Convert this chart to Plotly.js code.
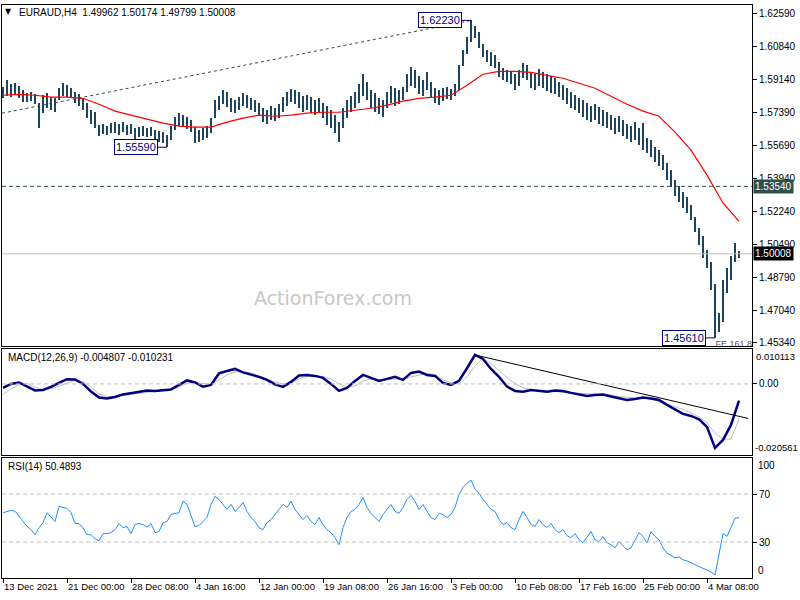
<!DOCTYPE html>
<html><head><meta charset="utf-8">
<script src="https://cdn.plot.ly/plotly-3.0.1.min.js"></script>
<style>html,body{margin:0;padding:0;background:#fff}#chart{width:800px;height:600px}</style>
</head><body><div id="chart"></div>
<script>
// ---------- data ----------
const headerText = 'EURAUD,H4  1.49962 1.50174 1.49799 1.50008';
const macdLabel = 'MACD(12,26,9) -0.004807 -0.010231';
const rsiLabel = 'RSI(14) 50.4893';
const watermark = 'ActionForex.com';

const timeTickIdx = [0,16,32,48,64,80,96,112,128,144,160,176];
const timeTickText = ['13 Dec 2021','21 Dec 00:00','28 Dec 08:00','4 Jan 16:00','12 Jan 00:00','19 Jan 08:00','26 Jan 16:00','3 Feb 00:00','10 Feb 08:00','17 Feb 16:00','25 Feb 00:00','4 Mar 08:00'];

const priceTicks = [1.62590,1.60840,1.59140,1.57390,1.55690,1.53940,1.52240,1.50490,1.48790,1.47040,1.45340];

const barHigh = [
1.5873,1.5909,1.5888,1.5894,1.5878,1.5857,1.5841,1.5847,1.5836,1.5789,
1.5831,1.5841,1.5821,1.5815,1.5868,1.5894,1.5883,1.5868,1.5847,1.5836,
1.5815,1.5789,1.5753,1.5742,1.5674,1.5680,1.5669,1.5685,1.5690,1.5680,
1.5690,1.5674,1.5680,1.5659,1.5664,1.5669,1.5659,1.5664,1.5648,1.5643,
1.5638,1.5622,1.5669,1.5716,1.5737,1.5727,1.5716,1.5701,1.5664,1.5648,
1.5659,1.5669,1.5711,1.5805,1.5826,1.5857,1.5847,1.5815,1.5805,1.5821,
1.5841,1.5831,1.5815,1.5805,1.5789,1.5763,1.5753,1.5774,1.5763,1.5784,
1.5821,1.5847,1.5862,1.5857,1.5847,1.5826,1.5831,1.5821,1.5805,1.5815,
1.5789,1.5774,1.5753,1.5727,1.5690,1.5763,1.5805,1.5826,1.5847,1.5888,
1.5941,1.5899,1.5857,1.5841,1.5815,1.5805,1.5847,1.5878,1.5868,1.5857,
1.5873,1.5941,1.5977,1.5962,1.5930,1.5909,1.5951,1.5899,1.5868,1.5857,
1.5868,1.5873,1.5862,1.5888,1.5988,1.6066,1.6134,1.6223,1.6196,1.6160,
1.6097,1.6066,1.6056,1.6040,1.6003,1.5972,1.5962,1.5956,1.5941,1.5962,
1.5998,1.5988,1.5951,1.5941,1.5967,1.5951,1.5941,1.5930,1.5920,1.5899,
1.5883,1.5868,1.5847,1.5831,1.5815,1.5805,1.5789,1.5774,1.5784,1.5768,
1.5753,1.5742,1.5727,1.5711,1.5721,1.5701,1.5680,1.5669,1.5690,1.5659,
1.5685,1.5607,1.5596,1.5559,1.5544,1.5518,1.5476,1.5440,1.5387,1.5356,
1.5325,1.5299,1.5257,1.5194,1.5137,1.5095,1.5022,1.4959,1.4844,1.4693,
1.4865,1.4928,1.4991,1.5058,1.50174];

const barLow = [
1.5815,1.5826,1.5821,1.5831,1.5815,1.5794,1.5794,1.5800,1.5784,1.5659,
1.5737,1.5763,1.5753,1.5742,1.5805,1.5826,1.5821,1.5815,1.5789,1.5774,
1.5753,1.5711,1.5680,1.5659,1.5617,1.5627,1.5622,1.5633,1.5633,1.5622,
1.5638,1.5622,1.5627,1.5596,1.5612,1.5617,1.5612,1.5617,1.5591,1.5586,
1.5580,1.5559,1.5596,1.5648,1.5669,1.5664,1.5654,1.5638,1.5580,1.5586,
1.5596,1.5607,1.5633,1.5711,1.5753,1.5784,1.5768,1.5742,1.5737,1.5753,
1.5774,1.5763,1.5753,1.5742,1.5721,1.5690,1.5680,1.5701,1.5695,1.5711,
1.5742,1.5774,1.5794,1.5784,1.5763,1.5742,1.5753,1.5737,1.5727,1.5742,
1.5711,1.5674,1.5659,1.5633,1.5586,1.5659,1.5711,1.5742,1.5763,1.5789,
1.5826,1.5805,1.5763,1.5742,1.5732,1.5716,1.5763,1.5789,1.5774,1.5784,
1.5805,1.5847,1.5878,1.5868,1.5836,1.5826,1.5857,1.5815,1.5789,1.5779,
1.5800,1.5810,1.5805,1.5826,1.5857,1.5982,1.6045,1.6108,1.6129,1.6076,
1.6029,1.6003,1.5982,1.5972,1.5925,1.5909,1.5899,1.5888,1.5857,1.5878,
1.5920,1.5909,1.5868,1.5857,1.5878,1.5868,1.5852,1.5841,1.5836,1.5821,
1.5805,1.5784,1.5763,1.5753,1.5737,1.5716,1.5701,1.5690,1.5701,1.5680,
1.5669,1.5659,1.5648,1.5627,1.5638,1.5617,1.5601,1.5586,1.5596,1.5570,
1.5544,1.5528,1.5507,1.5481,1.5460,1.5440,1.5387,1.5351,1.5304,1.5273,
1.5241,1.5215,1.5179,1.5116,1.5048,1.4980,1.4928,1.4813,1.4561,1.4594,
1.4646,1.4797,1.4865,1.4959,1.49799];

// SMA sampled every 4 bars
const smaVals = [
1.5831,1.5836,1.5831,1.5821,1.5821,1.5815,1.5784,1.5748,1.5727,1.5706,
1.5685,1.5669,1.5664,1.5664,1.5690,1.5711,1.5727,1.5721,1.5727,1.5737,
1.5742,1.5742,1.5753,1.5763,1.5779,1.5800,1.5815,1.5821,1.5831,1.5883,
1.5941,1.5956,1.5956,1.5951,1.5935,1.5920,1.5894,1.5868,1.5826,1.5784,
1.5748,1.5721,1.5638,1.5544,1.5413,1.5267,1.5171];

// MACD & signal sampled every 2 bars
const macdVals = [
-0.00116,0.00000,0.00043,-0.00072,-0.00188,-0.00174,-0.00087,0.00029,0.00136,0.00130,
0.00000,-0.00217,-0.00391,-0.00420,-0.00376,-0.00304,-0.00260,-0.00217,-0.00194,-0.00203,
-0.00188,-0.00159,-0.00029,0.00101,0.00043,-0.00078,-0.00029,0.00304,0.00376,0.00434,
0.00333,0.00275,0.00203,0.00116,-0.00014,-0.00087,0.00058,0.00246,0.00260,0.00232,
0.00174,0.00000,-0.00203,-0.00116,0.00087,0.00260,0.00174,0.00087,0.00145,0.00203,
0.00116,0.00318,0.00356,0.00260,0.00232,0.00029,-0.00029,0.00087,0.00454,0.00839,
0.00724,0.00434,0.00203,-0.00078,-0.00203,-0.00223,-0.00174,-0.00203,-0.00223,-0.00188,
-0.00203,-0.00260,-0.00304,-0.00347,-0.00318,-0.00304,-0.00362,-0.00405,-0.00463,-0.00434,
-0.00391,-0.00420,-0.00463,-0.00608,-0.00738,-0.00868,-0.00926,-0.01027,-0.01244,-0.01852,
-0.01621,-0.01187,-0.00481];
const signalVals = [
-0.00304,-0.00145,-0.00014,0.00014,-0.00087,-0.00159,-0.00145,-0.00058,0.00029,0.00101,
0.00072,-0.00087,-0.00289,-0.00362,-0.00362,-0.00333,-0.00289,-0.00260,-0.00232,-0.00217,
-0.00188,-0.00159,-0.00087,0.00029,0.00038,0.00014,-0.00014,0.00116,0.00260,0.00347,
0.00356,0.00318,0.00232,0.00145,0.00058,0.00000,0.00029,0.00145,0.00217,0.00232,
0.00217,0.00145,0.00000,-0.00087,-0.00058,0.00087,0.00145,0.00130,0.00116,0.00145,
0.00130,0.00203,0.00260,0.00304,0.00275,0.00116,0.00029,0.00000,0.00203,0.00521,
0.00738,0.00579,0.00391,0.00174,0.00014,-0.00116,-0.00159,-0.00174,-0.00188,-0.00217,
-0.00246,-0.00260,-0.00275,-0.00275,-0.00289,-0.00304,-0.00318,-0.00362,-0.00390,-0.00405,
-0.00405,-0.00434,-0.00506,-0.00579,-0.00651,-0.00738,-0.00839,-0.00955,-0.01129,-0.01418,
-0.01606,-0.01592,-0.01023];
const macdRange = [-0.020561, 0.010113];
const macdTrendIdx = [118, 186.3];
const macdTrendVal = [0.00839, -0.0100];

const rsiVals = [
54.4,55.2,56.3,55.7,51.5,47.3,43.1,40.3,36.1,42.0,
46.0,54.4,50.4,47.1,59.7,58.6,58.0,54.6,45.4,45.4,
41.8,36.1,36.1,32.8,31.1,37.0,37.0,37.8,40.3,45.4,
42.0,42.9,37.0,44.5,45.4,44.5,42.3,45.4,37.8,38.7,
46.0,47.1,52.9,53.8,54.4,63.9,61.3,52.1,42.9,43.7,
47.1,50.4,61.3,68.1,65.5,61.3,57.1,61.3,55.5,58.8,
63.0,55.5,50.4,47.1,42.0,40.3,46.2,48.7,52.9,57.1,
61.3,58.8,63.9,57.1,52.9,48.7,52.1,47.1,44.5,50.4,
44.5,40.3,37.8,33.6,27.7,42.0,50.4,55.5,57.1,61.3,
67.2,58.8,53.8,50.4,47.1,52.9,57.1,61.3,55.5,53.8,
58.8,65.5,68.9,63.9,57.1,61.3,55.5,50.4,48.7,53.8,
52.9,50.4,52.9,58.8,69.7,75.6,79.0,81.5,73.9,70.6,
65.5,61.3,57.1,55.5,48.7,44.5,46.2,42.0,40.3,48.7,
55.5,50.4,44.5,42.9,48.7,44.5,42.0,45.4,40.3,37.8,
40.3,35.3,33.6,37.0,31.9,29.4,33.6,38.7,31.9,30.3,
34.5,29.4,27.7,25.2,30.3,26.9,23.5,25.2,31.9,37.8,
34.7,29.2,38.7,34.7,31.9,25.0,20.8,18.5,16.8,17.6,
15.1,14.3,12.6,10.9,9.2,8.0,6.7,5.0,2.5,18.5,
37.0,34.7,42.9,49.6,50.49];
const rsiLevels = [70, 30];

// price trendline (dotted) and levels
const trendIdx = [-0.25, 117];
const trendVal = [1.5737, 1.6223];
const dashedLevel = 1.53540;
const lastPrice = 1.50008;
const markIdx = [117, 41, 178];
const markPrice = [1.62230, 1.55590, 1.45610];
const feIdx = [178.1];
const fePrice = [1.4524];
const feText = ['FE 161.8'];

// ---------- chart ----------
const N = barHigh.length;
const barIdx = Array.from({length: N}, (_, i) => i);
const idx2 = Array.from({length: macdVals.length}, (_, i) => i * 2);
const idx4 = Array.from({length: smaVals.length}, (_, i) => i * 4);
const xRange = [-0.25, 187.25];
const FONT = 'Liberation Sans, Arial, sans-serif';

const traces = [
  {type:'bar', x: barIdx, y: barHigh.map((h, i) => h - barLow[i]), base: barLow, width: 0.4,
   marker:{color:'#1c4660', line:{width:0}}, xaxis:'x', yaxis:'y', hoverinfo:'skip'},
  {type:'scatter', mode:'lines', x: idx4, y: smaVals, line:{color:'#ff0000', width:1.2}, xaxis:'x', yaxis:'y'},
  {type:'scatter', mode:'lines', x: trendIdx, y: trendVal, line:{color:'#2f4f4f', width:1, dash:'3px,3px'}, xaxis:'x', yaxis:'y'},
  {type:'scatter', mode:'text', x: feIdx, y: fePrice, text: feText, textposition:'middle right', cliponaxis:true,
   textfont:{family:FONT, size:9, color:'#555555'}, xaxis:'x', yaxis:'y'},
  {type:'scatter', mode:'lines', x: idx2, y: signalVals, line:{color:'#c0c0c0', width:1}, xaxis:'x2', yaxis:'y2'},
  {type:'scatter', mode:'lines', x: idx2, y: macdVals, line:{color:'#000080', width:2.5}, xaxis:'x2', yaxis:'y2'},
  {type:'scatter', mode:'lines', x: macdTrendIdx, y: macdTrendVal, line:{color:'#000000', width:1}, xaxis:'x2', yaxis:'y2'},
  {type:'scatter', mode:'lines', x: barIdx, y: rsiVals, line:{color:'#1e90ff', width:1}, xaxis:'x3', yaxis:'y3'}
];

const axBase = {showline:true, mirror:true, linecolor:'#000', linewidth:1, showgrid:false, zeroline:false, fixedrange:true};
const yBase = Object.assign({}, axBase, {side:'right', ticks:'outside', ticklen:4, tickcolor:'#000', tickfont:{family:FONT, size:10, color:'#000'}});

const shapes = [
  {type:'line', xref:'x domain', x0:0, x1:1, yref:'y', y0:dashedLevel, y1:dashedLevel, line:{color:'#2f4f4f', width:1, dash:'4px,3px'}},
  {type:'line', xref:'x domain', x0:0, x1:1, yref:'y', y0:lastPrice, y1:lastPrice, line:{color:'#c0c0c0', width:1}},
  {type:'line', xref:'x2 domain', x0:0, x1:1, yref:'y2', y0:0, y1:0, line:{color:'#c0c0c0', width:1, dash:'4px,3px'}}
].concat(rsiLevels.map(v => ({type:'line', xref:'x3 domain', x0:0, x1:1, yref:'y3', y0:v, y1:v, line:{color:'#c0c0c0', width:1, dash:'4px,3px'}})));

const annotations = [
  {xref:'paper', yref:'paper', x:0, y:1, xanchor:'left', yanchor:'top', xshift:1, yshift:0, showarrow:false,
   text:'▼', font:{family:'DejaVu Sans', size:8, color:'#000'}},
  {xref:'paper', yref:'paper', x:0, y:1, xanchor:'left', yanchor:'top', xshift:15, yshift:0, showarrow:false,
   text: headerText, font:{family:FONT, size:10, color:'#000'}},
  {xref:'paper', yref:'y2 domain', x:0, y:1, xanchor:'left', yanchor:'top', xshift:4, yshift:-1, showarrow:false,
   text: macdLabel, font:{family:FONT, size:10, color:'#000'}},
  {xref:'paper', yref:'y3 domain', x:0, y:1, xanchor:'left', yanchor:'top', xshift:4, yshift:-1, showarrow:false,
   text: rsiLabel, font:{family:FONT, size:10, color:'#000'}},
  {xref:'paper', x:0.441, xanchor:'center', yref:'y domain', y:0.14, yanchor:'middle', showarrow:false,
   text: watermark, font:{family:'DejaVu Sans', size:19, color:'#c8c8c8'}},
  {xref:'paper', x:1, xanchor:'left', xshift:1, yref:'y', y:dashedLevel, yanchor:'middle', showarrow:false, text:dashedLevel.toFixed(5),
   bgcolor:'#2f4f4f', borderpad:1, font:{family:FONT, size:10, color:'#fff'}},
  {xref:'paper', x:1, xanchor:'left', xshift:1, yref:'y', y:lastPrice, yanchor:'middle', showarrow:false, text:lastPrice.toFixed(5),
   bgcolor:'#000', borderpad:1, font:{family:FONT, size:10, color:'#fff'}},
  {xref:'paper', x:1, xanchor:'left', xshift:2, yref:'y2', y:macdRange[1], yanchor:'top', showarrow:false, text:macdRange[1].toFixed(6),
   font:{family:FONT, size:9.5, color:'#000'}},
  {xref:'paper', x:1, xanchor:'left', xshift:1, yref:'y2', y:macdRange[0], yanchor:'bottom', showarrow:false, text:macdRange[0].toFixed(6),
   font:{family:FONT, size:9.5, color:'#000'}},
  {xref:'paper', x:1, xanchor:'left', xshift:4, yref:'y3', y:100, yanchor:'top', showarrow:false, text:'100',
   font:{family:FONT, size:10, color:'#000'}},
  {xref:'paper', x:1, xanchor:'left', xshift:4, yref:'y3', y:0, yanchor:'bottom', showarrow:false, text:'0',
   font:{family:FONT, size:10, color:'#000'}}
].concat(markIdx.map((ix, k) => ({
  xref:'x', yref:'y', x: ix, y: markPrice[k], text: markPrice[k].toFixed(5), showarrow:true, arrowhead:0, arrowwidth:1,
  arrowcolor:'#000080', ax:-31, ay:0, bordercolor:'#000080', borderwidth:1, borderpad:1, bgcolor:'#fff',
  font:{family:FONT, size:11, color:'#000080'}
})));

const layout = {
  width:800, height:600, margin:{l:2, r:48, t:5, b:22},
  paper_bgcolor:'#fff', plot_bgcolor:'#fff', showlegend:false, hovermode:false,
  font:{family:FONT, size:10, color:'#000'},
  xaxis: Object.assign({}, axBase, {domain:[0,1], anchor:'y', range:xRange, showticklabels:false, ticks:''}),
  xaxis2: Object.assign({}, axBase, {domain:[0,1], anchor:'y2', range:xRange, matches:'x', showticklabels:false, ticks:''}),
  xaxis3: Object.assign({}, axBase, {domain:[0,1], anchor:'y3', range:xRange, matches:'x', tickmode:'array', tickvals:timeTickIdx, ticktext:timeTickText,
    ticks:'outside', ticklen:4, tickcolor:'#000', tickangle:0, ticklabelposition:'outside right', tickfont:{family:FONT, size:9.5, color:'#000'}}),
  yaxis: Object.assign({}, yBase, {domain:[0.4049,1], anchor:'x', range:[1.45183,1.63035], tickmode:'array', tickvals:priceTicks, ticktext:priceTicks.map(v=>v.toFixed(5))}),
  yaxis2: Object.assign({}, yBase, {domain:[0.2147,0.3997], anchor:'x2', range:macdRange, tickmode:'array', tickvals:[0], ticktext:['0.00']}),
  yaxis3: Object.assign({}, yBase, {domain:[0,0.2094], anchor:'x3', range:[0,100], tickmode:'array', tickvals:rsiLevels, ticktext:rsiLevels.map(String)}),
  shapes: shapes, annotations: annotations, bargap:0
};

Plotly.newPlot('chart', traces, layout, {staticPlot:true, displayModeBar:false});
</script></body></html>
